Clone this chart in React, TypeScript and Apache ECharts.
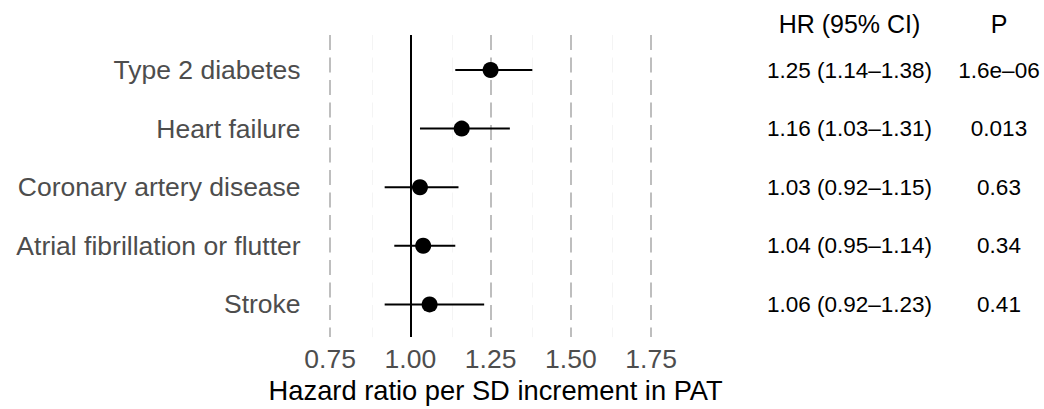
import React, { useEffect, useRef } from "react";
import * as echarts from "echarts";

const outcomes = [
  "Type 2 diabetes",
  "Heart failure",
  "Coronary artery disease",
  "Atrial fibrillation or flutter",
  "Stroke",
];
const hr = [1.25, 1.16, 1.03, 1.04, 1.06];
const lower = [1.14, 1.03, 0.92, 0.95, 0.92];
const upper = [1.38, 1.31, 1.15, 1.14, 1.23];
const hrText = [
  "1.25 (1.14\u20131.38)",
  "1.16 (1.03\u20131.31)",
  "1.03 (0.92\u20131.15)",
  "1.04 (0.95\u20131.14)",
  "1.06 (0.92\u20131.23)",
];
const pText = ["1.6e\u201306", "0.013", "0.63", "0.34", "0.41"];
const majorTicks = [0.75, 1.0, 1.25, 1.5, 1.75];
const majorTickLabels = ["0.75", "1.00", "1.25", "1.50", "1.75"];
const minorTicks = [0.875, 1.125, 1.375, 1.625, 1.875];
const refValue = 1.0;

const FONT = "'Liberation Sans', Arial, Helvetica, sans-serif";

export default function App() {
  const ref = useRef<HTMLDivElement>(null);
  useEffect(() => {
    if (!ref.current) return;
    const chart = echarts.init(ref.current, undefined, { renderer: "svg" });
    const gridLeft = 330.1;
    const gridRight = 1044 - 691.2;
    const option: any = {
      animation: false,
      backgroundColor: "#ffffff",
      textStyle: { fontFamily: FONT },
      grid: [
        { left: gridLeft, right: gridRight, top: 35, height: 305 },
        { left: gridLeft, right: gridRight, top: 40.7, height: 293 },
      ],
      xAxis: [
        {
          type: "value",
          gridIndex: 0,
          min: 0.75,
          max: 1.875,
          interval: 0.125,
          axisLine: { show: false },
          axisTick: { show: false },
          splitLine: { show: false },
          axisLabel: {
            show: true,
            showMinLabel: true,
            showMaxLabel: true,
            color: "#4d4d4d",
            fontSize: 26.5,
            fontFamily: FONT,
            margin: 8,
            formatter: (v: number) => {
              const idx = majorTicks.findIndex((t) => Math.abs(t - v) < 1e-6);
              return idx >= 0 ? majorTickLabels[idx] : "";
            },
          },
          name: "Hazard ratio per SD increment in PAT",
          nameLocation: "middle",
          nameGap: 33,
          nameTextStyle: {
            color: "#000000",
            fontSize: 27.3,
            fontFamily: FONT,
            padding: [0, 30, 0, 0],
          },
        },
        {
          type: "value",
          gridIndex: 1,
          min: 0.75,
          max: 1.875,
          show: false,
        },
      ],
      yAxis: [
        { type: "value", gridIndex: 0, min: 0, max: 1, inverse: true, show: false },
        {
          type: "category",
          gridIndex: 1,
          data: outcomes,
          inverse: true,
          axisLine: { show: false },
          axisTick: { show: false },
          splitLine: { show: false },
          axisLabel: {
            color: "#4d4d4d",
            fontSize: 26.5,
            fontFamily: FONT,
            margin: 29.5,
          },
        },
        {
          type: "category",
          gridIndex: 1,
          position: "right",
          offset: 849.5 - 691.2,
          data: hrText,
          inverse: true,
          axisLine: { show: false },
          axisTick: { show: false },
          splitLine: { show: false },
          axisLabel: {
            color: "#000000",
            fontSize: 22.5,
            fontFamily: FONT,
            margin: 0,
            align: "center",
          },
          name: "HR (95% CI)",
          nameLocation: "start",
          nameGap: 4,
          nameTextStyle: { color: "#000000", fontSize: 25, fontFamily: FONT, align: "center" },
        },
        {
          type: "category",
          gridIndex: 1,
          position: "right",
          offset: 999 - 691.2,
          data: pText,
          inverse: true,
          axisLine: { show: false },
          axisTick: { show: false },
          splitLine: { show: false },
          axisLabel: {
            color: "#000000",
            fontSize: 22.5,
            fontFamily: FONT,
            margin: 0,
            align: "center",
          },
          name: "P",
          nameLocation: "start",
          nameGap: 4,
          nameTextStyle: { color: "#000000", fontSize: 25, fontFamily: FONT, align: "center" },
        },
      ],
      series: [
        {
          type: "scatter",
          xAxisIndex: 0,
          yAxisIndex: 0,
          data: [[1, 0.5]],
          symbolSize: 0,
          silent: true,
          z: 1,
          markLine: {
            silent: true,
            symbol: ["none", "none"],
            label: { show: false },
            data: [
              ...minorTicks.map((t) => ({
                xAxis: t,
                lineStyle: { color: "#f4f4f4", width: 1, type: [15, 7.5] },
              })),
              ...majorTicks.map((t) => ({
                xAxis: t,
                lineStyle: { color: "#bebebe", width: 2, type: [15, 7.5] },
              })),
              {
                xAxis: refValue,
                lineStyle: { color: "#000000", width: 2, type: "solid" },
              },
            ],
          },
        },
        {
          type: "custom",
          xAxisIndex: 1,
          yAxisIndex: 1,
          z: 5,
          data: outcomes.map((o, i) => [lower[i], upper[i], i]),
          encode: { x: [0, 1], y: 2 },
          renderItem: (params: any, api: any) => {
            const y = api.value(2);
            const p1 = api.coord([api.value(0), y]);
            const p2 = api.coord([api.value(1), y]);
            return {
              type: "line",
              shape: { x1: p1[0], y1: p1[1], x2: p2[0], y2: p2[1] },
              style: { stroke: "#000000", lineWidth: 2 },
            };
          },
        },
        {
          type: "scatter",
          xAxisIndex: 1,
          yAxisIndex: 1,
          z: 6,
          symbol: "circle",
          symbolSize: 16,
          itemStyle: { color: "#000000", opacity: 1 },
          data: outcomes.map((o, i) => [hr[i], i]),
        },
      ],
    };
    chart.setOption(option);
    return () => chart.dispose();
  }, []);
  return (
    <div
      ref={ref}
      style={{ position: "fixed", left: 0, top: 0, width: 1044, height: 409 }}
    />
  );
}
